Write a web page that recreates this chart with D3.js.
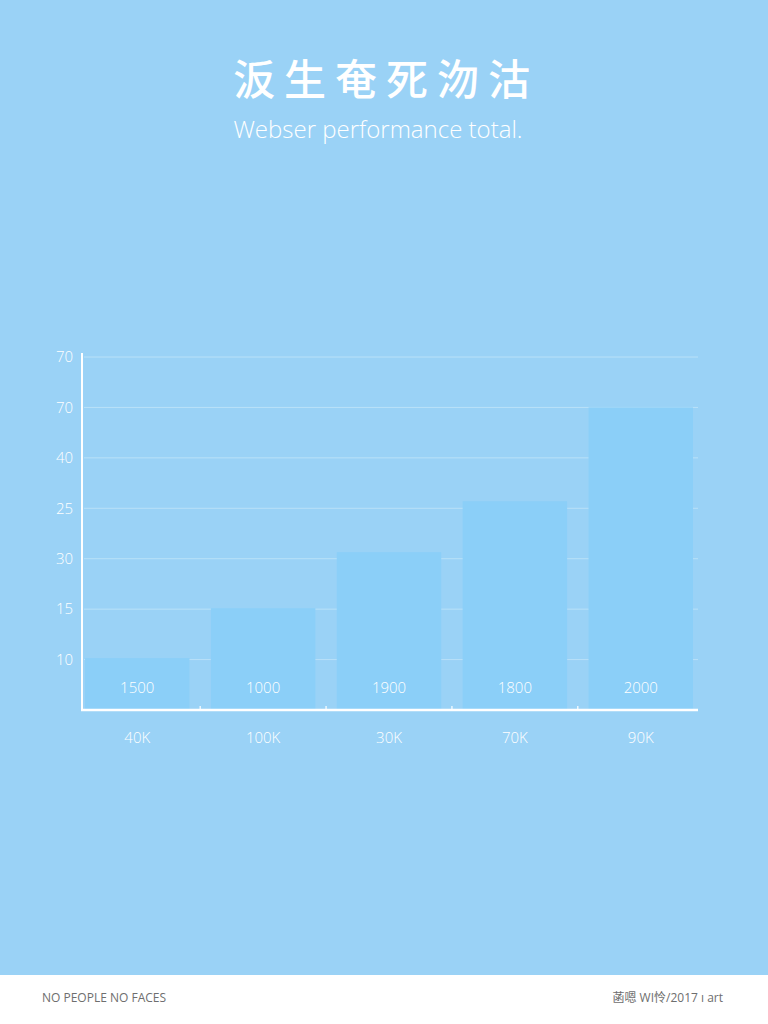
<!DOCTYPE html>
<html>
<head>
<meta charset="utf-8">
<script src="https://cdn.jsdelivr.net/npm/d3@7/dist/d3.min.js"></script>
<style>
  html, body { margin: 0; padding: 0; background: #9ad2f6; }
  svg { display: block; }
</style>
</head>
<body>
<svg id="chart" width="768" height="1024"></svg>
<script>
// ---- data ----
const categories = ["40K", "100K", "30K", "70K", "90K"];
const barValues = [1.03, 2.02, 3.13, 4.14, 6.0];      // in grid-step units
const barLabels = ["1500", "1000", "1900", "1800", "2000"];
const yTickPositions = [1, 2, 3, 4, 5, 6, 7];
const yTickLabels = ["10", "15", "30", "25", "40", "70", "70"];

const titleText = "汳生奄死沕沽";
const subtitleText = "Webser performance total.";
const footerLeft = "NO PEOPLE NO FACES";
const footerRight = "菡嗯 WI怜/2017 ı art";

// ---- drawing ----
const svg = d3.select("#chart");
const W = 768, H = 1024;

svg.append("rect").attr("x", 0).attr("y", 0).attr("width", W).attr("height", H).attr("fill", "#9ad2f6");

// footer band
svg.append("rect").attr("x", 0).attr("y", 975).attr("width", W).attr("height", H - 975).attr("fill", "#ffffff");
svg.append("text").attr("x", 42).attr("y", 1002)
  .attr("font-family", "Open Sans, sans-serif").attr("font-size", 12).attr("fill", "#6e6e6e")
  .text(footerLeft);
svg.append("text").attr("x", 723).attr("y", 1002).attr("text-anchor", "end")
  .attr("font-family", "Open Sans, 'Noto Sans CJK SC', sans-serif").attr("font-size", 12).attr("fill", "#6e6e6e")
  .text(footerRight);

// title
svg.append("text").attr("x", 386).attr("y", 95).attr("text-anchor", "middle")
  .attr("font-family", "'Noto Sans CJK SC', sans-serif").attr("font-size", 42).attr("font-weight", 500)
  .attr("letter-spacing", "9px").attr("fill", "#ffffff")
  .text(titleText);
svg.append("text").attr("x", 378).attr("y", 138).attr("text-anchor", "middle")
  .attr("font-family", "'Open Sans', sans-serif").attr("font-size", 24).attr("font-weight", 300)
  .attr("fill", "#ffffff")
  .text(subtitleText);

// scales
const x = d3.scaleBand().domain(categories).range([85, 693]).paddingInner(0.17).paddingOuter(0);
const y = d3.scaleLinear().domain([0, 7]).range([710, 357]);

// gridlines
svg.append("g").selectAll("line").data(yTickPositions).join("line")
  .attr("x1", 84).attr("x2", 698)
  .attr("y1", d => y(d)).attr("y2", d => y(d))
  .attr("stroke", "#b9e1f8").attr("stroke-width", 1);

// bars
svg.append("g").selectAll("rect").data(barValues).join("rect")
  .attr("x", (d, i) => x(categories[i]))
  .attr("width", x.bandwidth())
  .attr("y", d => y(d))
  .attr("height", d => y(0) - y(d))
  .attr("fill", "#8bcff8");

// bar labels
svg.append("g").selectAll("text").data(barLabels).join("text")
  .attr("x", (d, i) => x(categories[i]) + x.bandwidth() / 2)
  .attr("y", 693)
  .attr("text-anchor", "middle")
  .attr("font-family", "'Open Sans', sans-serif").attr("font-size", 15).attr("font-weight", 300)
  .attr("fill", "#ffffff")
  .text(d => d);

// y axis (custom tick labels)
const yAxis = d3.axisLeft(y).tickValues(yTickPositions)
  .tickFormat((d, i) => yTickLabels[i]).tickSize(0).tickPadding(9);
const gy = svg.append("g").attr("transform", "translate(82,0)").call(yAxis);
gy.select(".domain").remove();
gy.selectAll("text").attr("font-family", "'Open Sans', sans-serif").attr("font-size", 15)
  .attr("font-weight", 300).attr("fill", "#ffffff");

svg.append("line").attr("x1", 82).attr("x2", 82).attr("y1", 353).attr("y2", 711)
  .attr("stroke", "#ffffff").attr("stroke-width", 2);

// x axis
const xAxis = d3.axisBottom(x).tickSize(0).tickPadding(22);
const gx = svg.append("g").attr("transform", "translate(0,710)").call(xAxis);
gx.select(".domain").remove();
gx.selectAll("text").attr("font-family", "'Open Sans', sans-serif").attr("font-size", 15)
  .attr("font-weight", 300).attr("fill", "#ffffff");

svg.append("line").attr("x1", 81).attr("x2", 698).attr("y1", 710).attr("y2", 710)
  .attr("stroke", "#ffffff").attr("stroke-width", 2.5);

// tiny separators between bands
const seps = categories.slice(1).map(c => x(c) - x.step() * x.paddingInner() / 2);
svg.append("g").selectAll("line").data(seps).join("line")
  .attr("x1", d => d).attr("x2", d => d).attr("y1", 706).attr("y2", 710)
  .attr("stroke", "#ffffff").attr("stroke-width", 1.2);
</script>
</body>
</html>
